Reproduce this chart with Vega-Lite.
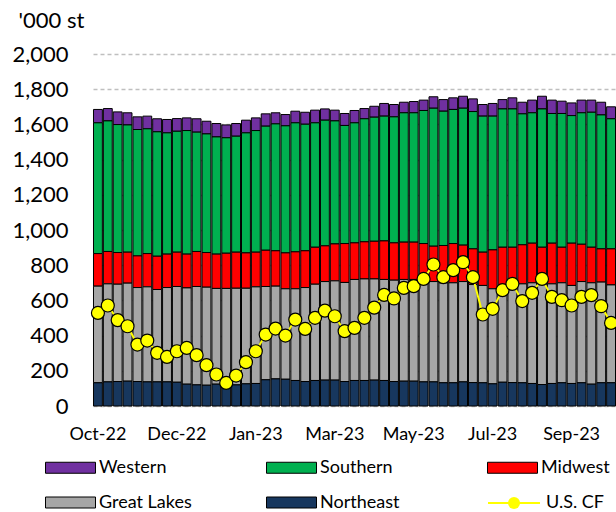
{
  "$schema": "https://vega.github.io/schema/vega-lite/v6.json",
  "autosize": {"type": "none"},
  "padding": {"left": 93, "top": 54, "right": 0, "bottom": 106},
  "width": 523,
  "height": 352,
  "config": {"view": {"stroke": null}, "font": "Lato"},
  "data": {"values": [
    {"d":"2022-10-07","Northeast":132,"Great Lakes":549,"Midwest":185,"Southern":743,"Western":76,"CF":529},
    {"d":"2022-10-14","Northeast":137,"Great Lakes":557,"Midwest":184,"Southern":742,"Western":70,"CF":571},
    {"d":"2022-10-21","Northeast":139,"Great Lakes":553,"Midwest":180,"Southern":727,"Western":72,"CF":488},
    {"d":"2022-10-28","Northeast":141,"Great Lakes":557,"Midwest":176,"Southern":723,"Western":69,"CF":453},
    {"d":"2022-11-04","Northeast":139,"Great Lakes":534,"Midwest":180,"Southern":718,"Western":72,"CF":349},
    {"d":"2022-11-11","Northeast":137,"Great Lakes":540,"Midwest":189,"Southern":709,"Western":72,"CF":372},
    {"d":"2022-11-18","Northeast":137,"Great Lakes":525,"Midwest":189,"Southern":707,"Western":74,"CF":302},
    {"d":"2022-11-25","Northeast":137,"Great Lakes":536,"Midwest":190,"Southern":689,"Western":76,"CF":279},
    {"d":"2022-12-02","Northeast":135,"Great Lakes":544,"Midwest":195,"Southern":687,"Western":72,"CF":311},
    {"d":"2022-12-09","Northeast":124,"Great Lakes":547,"Midwest":192,"Southern":702,"Western":72,"CF":330},
    {"d":"2022-12-16","Northeast":120,"Great Lakes":559,"Midwest":199,"Southern":678,"Western":76,"CF":289},
    {"d":"2022-12-23","Northeast":118,"Great Lakes":557,"Midwest":197,"Southern":674,"Western":72,"CF":232},
    {"d":"2022-12-30","Northeast":124,"Great Lakes":544,"Midwest":195,"Southern":666,"Western":76,"CF":179},
    {"d":"2023-01-06","Northeast":117,"Great Lakes":551,"Midwest":200,"Southern":656,"Western":73,"CF":131},
    {"d":"2023-01-13","Northeast":120,"Great Lakes":549,"Midwest":205,"Southern":659,"Western":72,"CF":173},
    {"d":"2023-01-20","Northeast":126,"Great Lakes":543,"Midwest":201,"Southern":682,"Western":72,"CF":249},
    {"d":"2023-01-27","Northeast":128,"Great Lakes":549,"Midwest":197,"Southern":691,"Western":72,"CF":311},
    {"d":"2023-02-03","Northeast":149,"Great Lakes":530,"Midwest":206,"Southern":705,"Western":70,"CF":406},
    {"d":"2023-02-10","Northeast":154,"Great Lakes":527,"Midwest":201,"Southern":721,"Western":63,"CF":440},
    {"d":"2023-02-17","Northeast":152,"Great Lakes":514,"Midwest":204,"Southern":722,"Western":64,"CF":400},
    {"d":"2023-02-24","Northeast":145,"Great Lakes":521,"Midwest":210,"Southern":733,"Western":66,"CF":491},
    {"d":"2023-03-03","Northeast":139,"Great Lakes":534,"Midwest":209,"Southern":719,"Western":68,"CF":438},
    {"d":"2023-03-10","Northeast":145,"Great Lakes":547,"Midwest":210,"Southern":707,"Western":72,"CF":501},
    {"d":"2023-03-17","Northeast":147,"Great Lakes":560,"Midwest":203,"Southern":714,"Western":64,"CF":542},
    {"d":"2023-03-24","Northeast":147,"Great Lakes":564,"Midwest":210,"Southern":699,"Western":61,"CF":510},
    {"d":"2023-03-31","Northeast":139,"Great Lakes":563,"Midwest":221,"Southern":671,"Western":68,"CF":425},
    {"d":"2023-04-07","Northeast":145,"Great Lakes":574,"Midwest":208,"Southern":682,"Western":70,"CF":444},
    {"d":"2023-04-14","Northeast":145,"Great Lakes":577,"Midwest":211,"Southern":699,"Western":58,"CF":501},
    {"d":"2023-04-21","Northeast":147,"Great Lakes":575,"Midwest":214,"Southern":705,"Western":62,"CF":559},
    {"d":"2023-04-28","Northeast":145,"Great Lakes":574,"Midwest":219,"Southern":709,"Western":72,"CF":631},
    {"d":"2023-05-05","Northeast":139,"Great Lakes":576,"Midwest":212,"Southern":716,"Western":70,"CF":611},
    {"d":"2023-05-12","Northeast":141,"Great Lakes":578,"Midwest":212,"Southern":735,"Western":60,"CF":671},
    {"d":"2023-05-19","Northeast":141,"Great Lakes":578,"Midwest":212,"Southern":735,"Western":64,"CF":681},
    {"d":"2023-05-26","Northeast":137,"Great Lakes":576,"Midwest":210,"Southern":756,"Western":59,"CF":722},
    {"d":"2023-06-02","Northeast":137,"Great Lakes":570,"Midwest":201,"Southern":784,"Western":65,"CF":804},
    {"d":"2023-06-09","Northeast":132,"Great Lakes":568,"Midwest":212,"Southern":763,"Western":66,"CF":732},
    {"d":"2023-06-16","Northeast":132,"Great Lakes":568,"Midwest":223,"Southern":762,"Western":66,"CF":772},
    {"d":"2023-06-23","Northeast":137,"Great Lakes":570,"Midwest":207,"Southern":778,"Western":68,"CF":817},
    {"d":"2023-06-30","Northeast":133,"Great Lakes":557,"Midwest":203,"Southern":780,"Western":72,"CF":732},
    {"d":"2023-07-07","Northeast":132,"Great Lakes":553,"Midwest":189,"Southern":773,"Western":66,"CF":520},
    {"d":"2023-07-14","Northeast":126,"Great Lakes":540,"Midwest":221,"Southern":760,"Western":72,"CF":552},
    {"d":"2023-07-21","Northeast":135,"Great Lakes":546,"Midwest":221,"Southern":786,"Western":53,"CF":658},
    {"d":"2023-07-28","Northeast":133,"Great Lakes":548,"Midwest":221,"Southern":786,"Western":63,"CF":694},
    {"d":"2023-08-04","Northeast":132,"Great Lakes":562,"Midwest":222,"Southern":744,"Western":66,"CF":596},
    {"d":"2023-08-11","Northeast":128,"Great Lakes":572,"Midwest":225,"Southern":741,"Western":72,"CF":643},
    {"d":"2023-08-18","Northeast":122,"Great Lakes":568,"Midwest":212,"Southern":786,"Western":72,"CF":722},
    {"d":"2023-08-25","Northeast":128,"Great Lakes":566,"Midwest":231,"Southern":737,"Western":76,"CF":620},
    {"d":"2023-09-01","Northeast":132,"Great Lakes":568,"Midwest":202,"Southern":760,"Western":70,"CF":601},
    {"d":"2023-09-08","Northeast":128,"Great Lakes":557,"Midwest":240,"Southern":725,"Western":72,"CF":571},
    {"d":"2023-09-15","Northeast":132,"Great Lakes":575,"Midwest":212,"Southern":747,"Western":72,"CF":620},
    {"d":"2023-09-22","Northeast":124,"Great Lakes":576,"Midwest":202,"Southern":767,"Western":69,"CF":630},
    {"d":"2023-09-29","Northeast":132,"Great Lakes":572,"Midwest":189,"Southern":761,"Western":72,"CF":567},
    {"d":"2023-10-06","Northeast":132,"Great Lakes":556,"Midwest":205,"Southern":739,"Western":68,"CF":472}
  ]},
  "layer": [
    {
      "transform": [
        {"fold": ["Western", "Southern", "Midwest", "Great Lakes", "Northeast"], "as": ["region", "kt"]},
        {"calculate": "indexof(['Northeast','Great Lakes','Midwest','Southern','Western'], datum.region)", "as": "ord"}
      ],
      "mark": {"type": "bar", "stroke": "black", "strokeWidth": 1, "opacity": 1},
      "encoding": {
        "x": {
          "field": "d", "type": "ordinal",
          "scale": {"paddingInner": 0.1, "paddingOuter": 0.05},
          "axis": {
            "values": ["2022-10-07", "2022-12-02", "2023-01-27", "2023-03-24", "2023-05-19", "2023-07-14", "2023-09-08"],
            "labelExpr": "utcFormat(toDate(datum.value), '%b-%y')",
            "labelAngle": 0, "labelFont": "Lato", "labelFontSize": 18, "labelColor": "black",
            "labelPadding": 19, "ticks": false, "tickSize": 0, "domain": false, "grid": false, "title": null
          }
        },
        "y": {
          "field": "kt", "type": "quantitative", "stack": "zero",
          "scale": {"domain": [0, 2000], "nice": false},
          "axis": {
            "values": [0, 200, 400, 600, 800, 1000, 1200, 1400, 1600, 1800, 2000],
            "tickCount": 20,
            "labelExpr": "format(datum.value, ',.0f')", "labelOverlap": false,
            "labelFont": "Lato", "labelFontSize": 22, "labelColor": "black",
            "labelPadding": 25, "ticks": false, "domain": false,
            "grid": true, "gridColor": "#bfbfbf", "gridDash": [4, 3], "gridWidth": 1.3,
            "title": "'000 st", "titleAngle": 0, "titleAlign": "left", "titleBaseline": "middle",
            "titleX": -75, "titleY": -34, "titleFont": "Lato", "titleFontSize": 22,
            "titleFontWeight": "normal", "titleColor": "black"
          }
        },
        "fill": {
          "field": "region", "type": "nominal",
          "scale": {
            "domain": ["Western", "Southern", "Midwest", "Great Lakes", "Northeast"],
            "range": ["#7030a0", "#00b050", "#ff0000", "#a6a6a6", "#17375e"]
          },
          "legend": {
            "orient": "none", "legendX": -33, "legendY": 403, "direction": "horizontal",
            "columns": 3, "gridAlign": "all", "title": null,
            "symbolType": "M-2.5,-0.55H2.5V0.55H-2.5Z", "symbolSize": 400,
            "symbolStrokeColor": "black", "symbolStrokeWidth": 1, "symbolOpacity": 1,
            "labelFont": "Lato", "labelFontSize": 18, "labelColor": "black", "labelOffset": 18,
            "columnPadding": 72, "rowPadding": 15, "labelLimit": 200
          }
        },
        "order": {"field": "ord", "type": "quantitative", "sort": "ascending"}
      }
    },
    {
      "mark": {"type": "line", "strokeWidth": 2},
      "encoding": {
        "x": {"field": "d", "type": "ordinal"},
        "y": {"field": "CF", "type": "quantitative"},
        "stroke": {
          "datum": "U.S. CF", "type": "nominal",
          "scale": {"range": ["#ffff00"]},
          "legend": {
            "orient": "none", "legendX": 394, "legendY": 422, "title": null,
            "symbolType": "stroke", "symbolSize": 2704, "symbolStrokeWidth": 2,
            "labelFont": "Lato", "labelFontSize": 18, "labelColor": "black", "labelOffset": 5
          }
        }
      }
    },
    {
      "mark": {"type": "point", "filled": true, "fill": "#ffff00", "stroke": "black", "strokeWidth": 1.2, "size": 169, "opacity": 1},
      "encoding": {
        "x": {"field": "d", "type": "ordinal"},
        "y": {"field": "CF", "type": "quantitative"},
        "shape": {
          "datum": "CF", "type": "nominal",
          "scale": {"range": ["circle"]},
          "legend": {
            "orient": "none", "legendX": 414, "legendY": 442, "title": null, "zindex": 1,
            "symbolSize": 144, "symbolFillColor": "#ffff00", "symbolStrokeColor": "black",
            "symbolStrokeWidth": 1.2, "symbolOpacity": 1, "labelExpr": "''"
          }
        }
      }
    }
  ]
}
